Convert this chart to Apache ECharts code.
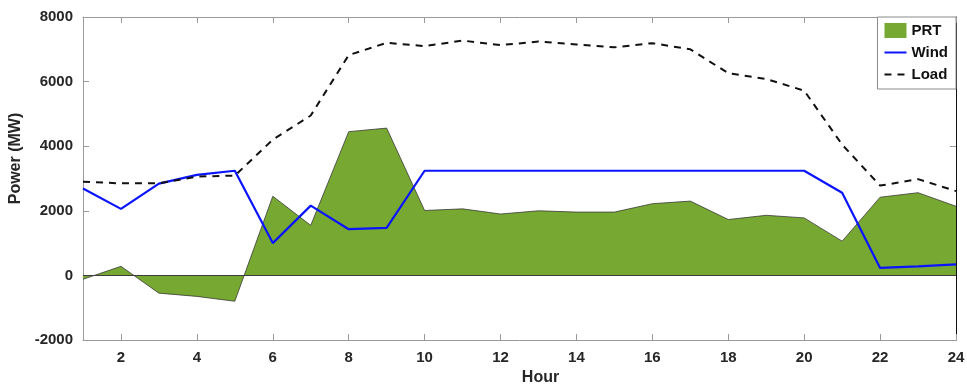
<!DOCTYPE html>
<html>
<head>
<meta charset="utf-8">
<script src="https://cdn.jsdelivr.net/npm/echarts@6/dist/echarts.min.js"></script>
<style>
  html, body { margin: 0; padding: 0; background: #fff; }
  #chart { width: 967px; height: 385px; }
</style>
</head>
<body>
<div id="chart"></div>
<script>
// Hourly power profile (MW)
const hours = [1,2,3,4,5,6,7,8,9,10,11,12,13,14,15,16,17,18,19,20,21,22,23,24];
const prt  = [-120, 280, -550, -650, -800, 2450, 1550, 4450, 4560, 2010, 2060, 1900, 2000, 1960, 1960, 2220, 2300, 1730, 1860, 1780, 1060, 2420, 2560, 2140];
const wind = [2690, 2060, 2840, 3110, 3240, 1000, 2160, 1430, 1470, 3240, 3240, 3240, 3240, 3240, 3240, 3240, 3240, 3240, 3240, 3240, 2560, 230, 280, 340];
const load = [2900, 2850, 2850, 3060, 3090, 4200, 4950, 6820, 7200, 7100, 7270, 7130, 7240, 7150, 7060, 7190, 7000, 6260, 6080, 5720, 4050, 2780, 2980, 2610];
const xTicks = [2,4,6,8,10,12,14,16,18,20,22,24];

const pairs = (vals) => hours.map((h, i) => [h, vals[i]]);

const FONT = 'Liberation Sans';
const txt = { fontFamily: FONT, fontWeight: 'bold', fontSize: 15, color: '#262626' };
const tickStyle = { show: true, inside: true, length: 6, lineStyle: { color: '#9a9a9a' } };

const chart = echarts.init(document.getElementById('chart'));
chart.setOption({
  animation: false,
  backgroundColor: '#ffffff',
  grid: { left: 83, right: 11, top: 17, bottom: 45, containLabel: false, outerBoundsMode: 'none' },
  legend: {
    orient: 'vertical',
    right: 11,
    top: 17,
    itemWidth: 22,
    itemHeight: 15,
    itemGap: 7,
    padding: [6, 8, 7, 6],
    borderColor: '#8a8a8a',
    borderWidth: 1,
    backgroundColor: '#ffffff',
    textStyle: { fontFamily: FONT, fontWeight: 'bold', fontSize: 15, color: '#111' },
    data: [
      { name: 'PRT', icon: 'rect' },
      { name: 'Wind', itemStyle: { opacity: 0 } },
      { name: 'Load', itemStyle: { opacity: 0 } }
    ]
  },
  xAxis: [
    {
      type: 'value', min: 1, max: 24,
      name: 'Hour', nameLocation: 'middle', nameGap: 24,
      nameTextStyle: { fontFamily: FONT, fontWeight: 'bold', fontSize: 16, color: '#262626', padding: [0, 0, 0, 42] },
      axisLine: { show: true, onZero: false, lineStyle: { color: '#9a9a9a' } },
      axisTick: Object.assign({ customValues: xTicks }, tickStyle),
      axisLabel: Object.assign({ customValues: xTicks, margin: 10 }, txt),
      splitLine: { show: false }
    },
    {
      type: 'value', min: 1, max: 24, position: 'top',
      axisLine: { show: true, onZero: false, lineStyle: { color: '#9a9a9a' } },
      axisTick: Object.assign({ customValues: xTicks }, tickStyle),
      axisLabel: { show: false },
      splitLine: { show: false }
    }
  ],
  yAxis: [
    {
      type: 'value', min: -2000, max: 8000, interval: 2000,
      name: 'Power (MW)', nameLocation: 'middle', nameGap: 58, nameRotate: 90,
      nameTextStyle: { fontFamily: FONT, fontWeight: 'bold', fontSize: 16, color: '#262626', padding: [0, 0, 0, 40] },
      axisLine: { show: true, onZero: false, lineStyle: { color: '#9a9a9a' } },
      axisTick: tickStyle,
      axisLabel: Object.assign({ margin: 10, formatter: (v) => String(v) }, txt),
      splitLine: { show: false }
    },
    {
      type: 'value', min: -2000, max: 8000, interval: 2000, position: 'right',
      axisLine: { show: true, onZero: false, lineStyle: { color: '#111' } },
      axisTick: tickStyle,
      axisLabel: { show: false },
      splitLine: { show: false }
    }
  ],
  series: [
    {
      name: 'PRT', type: 'line', data: pairs(prt),
      symbol: 'none', z: 1,
      itemStyle: { color: '#77a832' },
      lineStyle: { color: '#3a3a3a', width: 0.8 },
      areaStyle: { color: '#77a832', opacity: 1, origin: 0 },
      markLine: {
        silent: true, symbol: 'none', label: { show: false },
        lineStyle: { color: '#3d3d3d', width: 1.2, type: 'solid' },
        data: [[{ coord: [1, 0] }, { coord: [24, 0] }]]
      }
    },
    {
      name: 'Wind', type: 'line', data: pairs(wind),
      symbol: 'none', z: 3,
      itemStyle: { color: '#0a14ff' },
      lineStyle: { color: '#0a14ff', width: 2.2 }
    },
    {
      name: 'Load', type: 'line', data: pairs(load),
      symbol: 'none', z: 4,
      itemStyle: { color: '#111' },
      lineStyle: { color: '#111', width: 2, type: [7, 6] }
    }
  ]
});
</script>
</body>
</html>
